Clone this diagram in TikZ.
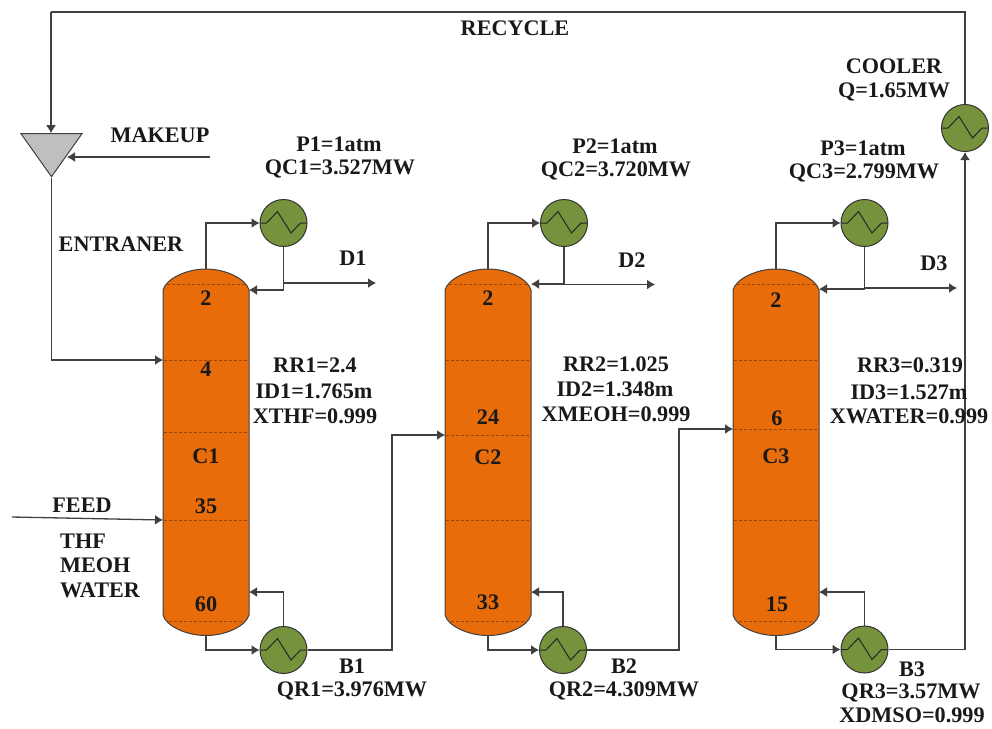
\documentclass[tikz,border=0pt]{standalone}
\usepackage{fontspec}
\setmainfont{Liberation Serif}
\usetikzlibrary{arrows.meta,shapes.geometric}
\definecolor{colorange}{HTML}{E96C0A}
\definecolor{hxgreen}{HTML}{76923C}
\definecolor{linegray}{HTML}{404040}
\tikzset{
    lbl/.style={font=\fontsize{22.2}{26}\selectfont\bfseries, inner sep=0pt, text=black!90},
    stream/.style={draw=linegray, line width=1.3pt, -{Latex[length=8pt,width=10pt]}},
    plainline/.style={draw=linegray, line width=1.3pt},
    colbody/.style={draw=linegray, line width=1pt, fill=colorange},
    tray/.style={draw=black!35!colorange, line width=0.6pt, densely dashed},
    hx/.style={circle, draw=black!80, line width=1pt, fill=hxgreen, minimum size=47pt, inner sep=0pt,
        path picture={\draw[black!85, line width=1pt, shift={(path picture bounding box.center)}]
            (-24,0) -- (-17,0) -- (-6,-11.5) -- (7.5,10) -- (17,0) -- (24,0);}},
}
\begin{document}
\begin{tikzpicture}[x=1pt, y=-1pt]
    \useasboundingbox (0,0) rectangle (992,728);

    % Columns
    \foreach \cname/\cx/\rety/\midy in {c1/206/290/432, c2/488/284/435, c3/776/289/429} {
        \draw[colbody] (\cx-43,290) .. controls (\cx-40,279) and (\cx-20,269) .. (\cx,269)
            .. controls (\cx+20,269) and (\cx+40,279) .. (\cx+43,290)
            -- (\cx+43,615) .. controls (\cx+40,626) and (\cx+20,635.5) .. (\cx,635.5)
            .. controls (\cx-20,635.5) and (\cx-40,626) .. (\cx-43,615) -- cycle;
        \foreach \ty in {360, \midy, 520} {
            \draw[tray] (\cx-42,\ty) -- (\cx+42,\ty);
        }
        \draw[tray] (\cx-39,284) -- (\cx+39,284);
        \draw[tray] (\cx-37,621) -- (\cx+37,621);
        \coordinate (\cname top) at (\cx,269);
        \coordinate (\cname bot) at (\cx,635.5);
        \coordinate (\cname ret) at (\cx+43,\rety);
        \coordinate (\cname reb) at (\cx+43,592);
    }
    \coordinate (c1rec) at (163,360);
    \coordinate (c1feed) at (163,520);
    \coordinate (c2in) at (445,435);
    \coordinate (c3in) at (733,429);

    % Condensers, reboilers, cooler
    \node[hx] (cd1) at (283.5,223) {};
    \node[hx] (cd2) at (564,223) {};
    \node[hx] (cd3) at (864.5,223) {};
    \node[hx] (rb1) at (283.5,650) {};
    \node[hx] (rb2) at (563,650) {};
    \node[hx] (rb3) at (864.5,649.5) {};
    \node[hx] (cool) at (965,128) {};

    % Mixer
    \node[isosceles triangle, isosceles triangle stretches, shape border rotate=-90,
        draw=linegray, line width=1pt, fill=black!25, minimum width=61pt, minimum height=43pt,
        inner sep=0pt, anchor=apex] (mix) at (51.5,178) {};

    % Free ends
    \coordinate (mixin) at (67,157);
    \coordinate (makeup) at (210,157);
    \coordinate (feedin) at (12,517);
    \coordinate (d1end) at (376,283);
    \coordinate (d2end) at (655,284.5);
    \coordinate (d3end) at (957,288);
    \coordinate (recyc) at (51,12);

    % Overhead and return lines
    \foreach \n in {1,2,3} {
        \draw[stream] (c\n top) |- (cd\n.west);
        \draw[stream] (cd\n.south) |- (c\n ret);
        \draw[stream] (c\n bot) |- (rb\n.west);
        \draw[stream] (rb\n.north) |- (c\n reb);
    }

    % Distillates
    \draw[stream] (cd1.south |- d1end) -- (d1end);
    \draw[stream] (cd2.south |- d2end) -- (d2end);
    \draw[stream] (cd3.south |- d3end) -- (d3end);

    % Bottoms
    \draw[stream] (rb1.east) -| (392,435) -- (c2in);
    \draw[stream] (rb2.east) -| (679,429) -- (c3in);
    \draw[stream] (rb3.east) -| (cool.south);

    % Recycle, makeup, feed
    \draw[plainline] (cool.north) |- (recyc);
    \draw[stream] (recyc) -- (recyc |- mix.lower side);
    \draw[stream] (makeup) -- (mixin);
    \draw[stream] (mix.apex) |- (c1rec);
    \draw[stream] (feedin) -- (c1feed);

    % Column labels
    \node[lbl] (t12) at (206,298) {2};
    \node[lbl] (t14) at (206,369) {4};
    \node[lbl] (c1name) at (206,456) {C1};
    \node[lbl] (t135) at (206,506) {35};
    \node[lbl] (t160) at (206,604) {60};
    \node[lbl] (t22) at (488,298) {2};
    \node[lbl] (t224) at (488,417) {24};
    \node[lbl] (c2name) at (488,457) {C2};
    \node[lbl] (t233) at (488,602) {33};
    \node[lbl] (t32) at (776,300) {2};
    \node[lbl] (t36) at (777,418) {6};
    \node[lbl] (c3name) at (776,456) {C3};
    \node[lbl] (t315) at (777,604) {15};

    % Stream labels
    \node[lbl] (lrecycle) at (515,28) {RECYCLE};
    \node[lbl] (lmakeup) at (160,135) {MAKEUP};
    \node[lbl] (lentr) at (121,244) {ENTRANER};
    \node[lbl] (lfeed) at (82,505) {FEED};
    \node[lbl, anchor=west] (lthf) at (60,541) {THF};
    \node[lbl, anchor=west] (lmeoh) at (60,565) {MEOH};
    \node[lbl, anchor=west] (lwater) at (60,590) {WATER};
    \node[lbl] (ld1) at (353,258) {D1};
    \node[lbl] (ld2) at (632,260) {D2};
    \node[lbl] (ld3) at (934,263) {D3};

    % Condenser data
    \node[lbl] (p1) at (339,144) {P1=1atm};
    \node[lbl] (qc1) at (340,169) {QC1=3.527MW};
    \node[lbl] (p2) at (615,146) {P2=1atm};
    \node[lbl] (qc2) at (616,171) {QC2=3.720MW};
    \node[lbl] (p3) at (863,148) {P3=1atm};
    \node[lbl] (qc3) at (864,173) {QC3=2.799MW};
    \node[lbl] (lcool) at (894,66) {COOLER};
    \node[lbl] (qcool) at (894,92) {Q=1.65MW};

    % Column data
    \node[lbl] (rr1) at (315,365) {RR1=2.4};
    \node[lbl] (id1) at (314,391) {ID1=1.765m};
    \node[lbl] (x1) at (315,416) {XTHF=0.999};
    \node[lbl] (rr2) at (616,364) {RR2=1.025};
    \node[lbl] (id2) at (615,389) {ID2=1.348m};
    \node[lbl] (x2) at (616,414) {XMEOH=0.999};
    \node[lbl] (rr3) at (910,365) {RR3=0.319};
    \node[lbl] (id3) at (909,392) {ID3=1.527m};
    \node[lbl] (x3) at (909,416) {XWATER=0.999};

    % Reboiler data
    \node[lbl] (lb1) at (352,666) {B1};
    \node[lbl] (qr1) at (352,691) {QR1=3.976MW};
    \node[lbl] (lb2) at (624,666) {B2};
    \node[lbl] (qr2) at (624,691) {QR2=4.309MW};
    \node[lbl] (lb3) at (912,669) {B3};
    \node[lbl] (qr3) at (911,693) {QR3=3.57MW};
    \node[lbl] (x4) at (912,715) {XDMSO=0.999};
\end{tikzpicture}
\end{document}
